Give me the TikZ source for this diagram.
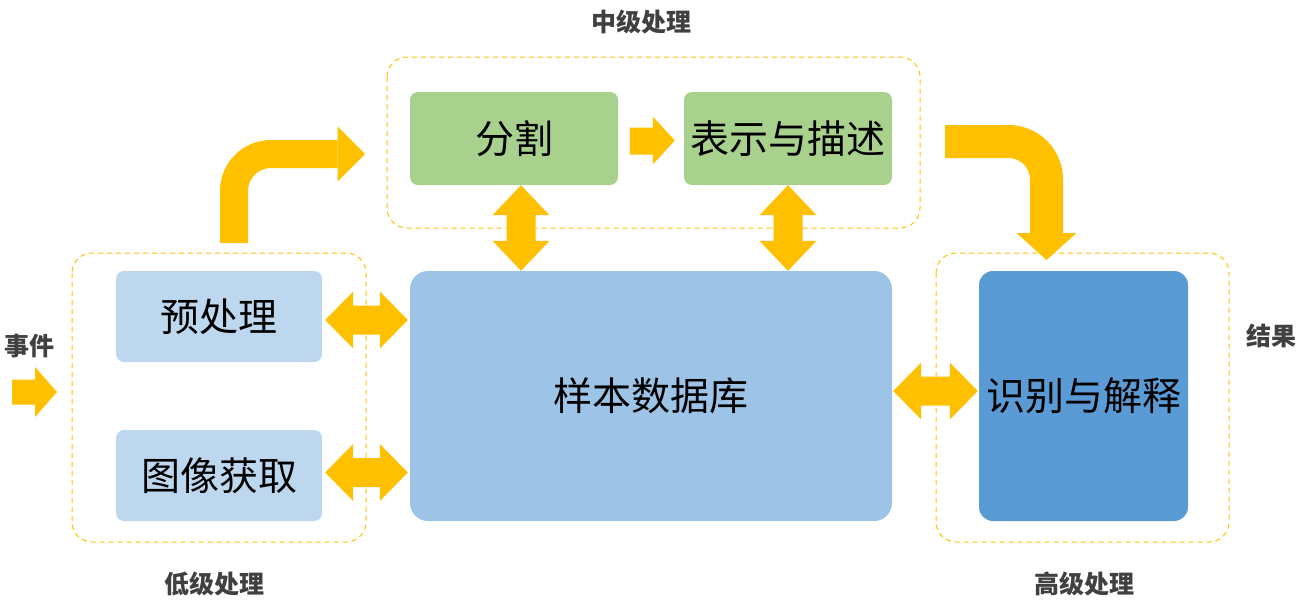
\documentclass[tikz,border=0pt]{standalone}
\usepackage{fontspec}
\setmainfont{Noto Sans CJK SC}
\usetikzlibrary{calc}
\definecolor{gold}{HTML}{FFC000}
\definecolor{lblue}{HTML}{BDD7EE}
\definecolor{mblue}{HTML}{9DC3E6}
\definecolor{dblue}{HTML}{5B9BD5}
\definecolor{lgreen}{HTML}{A9D18E}
\definecolor{labelgray}{HTML}{404040}
\tikzset{
  box/.style={rectangle, rounded corners=8pt, inner sep=0pt, font=\fontsize{39}{41}\selectfont, text=black},
  group/.style={draw=gold, line width=1pt, dash pattern=on 5pt off 4pt, rounded corners=20pt},
  lab/.style={font=\bfseries\fontsize{25}{27}\selectfont, text=labelgray, inner sep=0pt},
  arr/.style={fill=gold},
  bent/.style={draw=gold, line cap=butt, line join=round}
}
\newcommand\hdarr[2]{\fill[arr] (#1) -- ($(#1)+(28,-28.5)$) -- ($(#1)+(28,-14.5)$) -- ($(#2)+(-28,-14.5)$) -- ($(#2)+(-28,-28.5)$) -- (#2) -- ($(#2)+(-28,28.5)$) -- ($(#2)+(-28,14.5)$) -- ($(#1)+(28,14.5)$) -- ($(#1)+(28,28.5)$) -- cycle;}
\newcommand\vdarr[2]{\fill[arr] (#1) -- ($(#1)+(-28.5,30)$) -- ($(#1)+(-14.5,30)$) -- ($(#2)+(-14.5,-30)$) -- ($(#2)+(-28.5,-30)$) -- (#2) -- ($(#2)+(28.5,-30)$) -- ($(#2)+(14.5,-30)$) -- ($(#1)+(14.5,30)$) -- ($(#1)+(28.5,30)$) -- cycle;}
\begin{document}
\begin{tikzpicture}[x=1pt,y=-1pt]
\useasboundingbox (0,0) rectangle (1302,616);
% groups
\draw[group] (72,253) rectangle (366,542);
\draw[group] (387,57) rectangle (920,228);
\draw[group] (936,253) rectangle (1229,542);
% boxes
\node[box, fill=lblue, minimum width=206pt, minimum height=91pt] (pre) at (219,316.5) {预处理};
\node[box, fill=lblue, minimum width=206pt, minimum height=91pt] (acq) at (219,475.5) {图像获取};
\node[box, fill=mblue, minimum width=482pt, minimum height=250pt, rounded corners=18pt] (db) at (651,396) {样本数据库};
\node[box, fill=lgreen, minimum width=208pt, minimum height=93pt] (seg) at (514,138.5) {分割};
\node[box, fill=lgreen, minimum width=208pt, minimum height=93pt] (rep) at (788,138.5) {表示与描述};
\node[box, fill=dblue, minimum width=209pt, minimum height=250pt, rounded corners=14pt] (rec) at (1083.5,396) {识别与解释};
% labels
\node[lab] (lmid) at (641,22) {中级处理};
\node[lab] (llow) at (214,584) {低级处理};
\node[lab] (lhigh) at (1084,584) {高级处理};
\node[lab] (levt) at (30,346) {事件};
\node[lab] (lres) at (1271,336) {结果};
% double arrows
\coordinate (a1) at ($(pre.east)+(3,3.5)$);
\coordinate (b1) at ($(db.west |- a1)+(-2,0)$);
\hdarr{a1}{b1}
\coordinate (a2) at ($(acq.east)+(3,-3)$);
\coordinate (b2) at ($(db.west |- a2)+(-2,0)$);
\hdarr{a2}{b2}
\coordinate (a3) at ($(db.east)+(1,-5)$);
\coordinate (b3) at ($(rec.west |- a3)+(-1,0)$);
\hdarr{a3}{b3}
\coordinate (a4) at ($(seg.south)+(7,0)$);
\coordinate (b4) at (a4 |- db.north);
\vdarr{a4}{b4}
\coordinate (a5) at (rep.south);
\coordinate (b5) at (a5 |- db.north);
\vdarr{a5}{b5}
% event arrow
\coordinate (ev) at (57,392);
\fill[arr] (ev) -- ++(-22,-25) -- ++(0,12.5) -- ++(-23,0) -- ++(0,25) -- ++(23,0) -- ++(0,12.5) -- cycle;
% small arrow seg -> rep
\coordinate (sm) at ($(rep.west)+(-9,2)$);
\fill[arr] (sm) -- ++(-22,-24) -- ++(0,11) -- ++(-23,0) -- ++(0,27) -- ++(23,0) -- ++(0,10) -- cycle;
% bent arrow low -> mid
\coordinate (bs) at (234,243);
\coordinate (bt) at (365,154);
\draw[bent, line width=28pt, rounded corners=37pt] (bs) -- (bs |- bt) -- ($(bt)+(-27.5,0)$);
\fill[arr] (bt) -- ++(-27.5,-27.5) -- ++(0,55) -- cycle;
% bent arrow mid -> high
\coordinate (cs) at (945,141.5);
\coordinate (ct) at (1046.5,260);
\draw[bent, line width=33pt, rounded corners=38pt] (cs) -- (cs -| ct) -- ($(ct)+(0,-27)$);
\fill[arr] (ct) -- ++(-30,-27) -- ++(60,0) -- cycle;
\end{tikzpicture}
\end{document}
